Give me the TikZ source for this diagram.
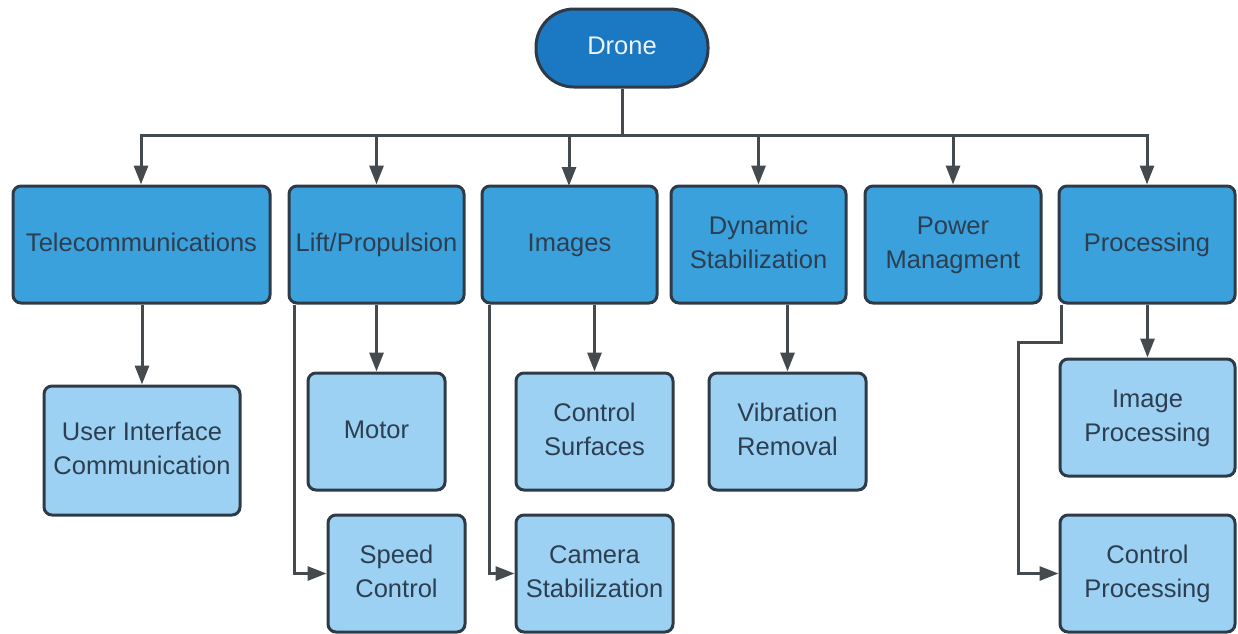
\documentclass[tikz,border=0pt]{standalone}
\usepackage{fontspec}
\setmainfont{Liberation Sans}
\usetikzlibrary{arrows.meta}
\definecolor{rootfill}{HTML}{1B78C2}
\definecolor{topfill}{HTML}{3BA1DD}
\definecolor{subfill}{HTML}{9DD1F3}
\definecolor{edge}{HTML}{2E3B47}
\definecolor{txt}{HTML}{2C3E50}
\definecolor{ln}{HTML}{454A4F}
\tikzset{
  box/.style={draw=edge, line width=3pt, rounded corners=8pt, align=center,
    text=txt, inner sep=2pt, text depth=4pt, font=\fontsize{25.5}{34}\selectfont},
  topbox/.style={box, fill=topfill},
  subbox/.style={box, fill=subfill},
  root/.style={draw=edge, line width=3pt, rounded corners=38pt, fill=rootfill,
    text=white!92!rootfill, text depth=4pt, font=\fontsize{25.5}{34}\selectfont,
    minimum width=172pt, minimum height=78pt},
  conn/.style={draw=ln, line width=3pt},
  arr/.style={conn, -{Triangle[length=19pt,width=14pt]}},
}
\begin{document}
\begin{tikzpicture}[x=1pt,y=-1pt]
\useasboundingbox (0,0) rectangle (1238,633);
% root
\node[root] (drone) at (622,48) {Drone};
% top row
\node[topbox, minimum width=257pt, minimum height=117pt] (tel) at (141.5,244.5) {Telecommunications};
\node[topbox, minimum width=175pt, minimum height=117pt] (lift) at (376.5,244.5) {Lift/Propulsion};
\node[topbox, minimum width=175pt, minimum height=117pt] (img) at (569.5,244.5) {Images};
\node[topbox, minimum width=175pt, minimum height=117pt] (dyn) at (758.5,244.5) {Dynamic\\Stabilization};
\node[topbox, minimum width=176pt, minimum height=117pt] (pow) at (953,244.5) {Power\\Managment};
\node[topbox, minimum width=176pt, minimum height=117pt] (proc) at (1147,244.5) {Processing};
% second row
\node[subbox, minimum width=196pt, minimum height=129pt] (ui) at (142,450.5) {User Interface\\Communication};
\node[subbox, minimum width=137pt, minimum height=117pt] (motor) at (376.5,431.5) {Motor};
\node[subbox, minimum width=137pt, minimum height=117pt] (speed) at (396.5,573.5) {Speed\\Control};
\node[subbox, minimum width=157pt, minimum height=117pt] (csurf) at (594.5,431.5) {Control\\Surfaces};
\node[subbox, minimum width=157pt, minimum height=117pt] (cam) at (594.5,573.5) {Camera\\Stabilization};
\node[subbox, minimum width=157pt, minimum height=117pt] (vib) at (787.5,431.5) {Vibration\\Removal};
\node[subbox, minimum width=175pt, minimum height=117pt] (iproc) at (1147.5,417.5) {Image\\Processing};
\node[subbox, minimum width=175pt, minimum height=117pt] (cproc) at (1147.5,573.5) {Control\\Processing};
% bus
\coordinate (bus) at (622,135);
\coordinate (busL) at (141,135);
\coordinate (busR) at (1147,135);
\draw[conn] (drone.south) -- (bus);
\draw[conn, line cap=rect] (busL) -- (busR);
\draw[arr] (busL) -- (tel.north -| busL);
\draw[arr] (lift.north |- bus) -- (lift.north);
\draw[arr] (569,135) -- (569,186);
\draw[arr] (dyn.north |- bus) -- (dyn.north);
\draw[arr] (pow.north |- bus) -- (pow.north);
\draw[arr] (busR) -- (proc.north -| busR);
% children
\draw[arr] (tel.south -| ui.north) -- (ui.north);
\draw[arr] (lift.south -| motor.north) -- (motor.north);
\draw[arr] ([xshift=7pt]lift.south west) |- (speed.west);
\draw[arr] (img.south -| csurf.north) -- (csurf.north);
\draw[arr] ([xshift=9pt]img.south west) |- (cam.west);
\draw[arr] (dyn.south -| vib.north) -- (vib.north);
\draw[arr] (proc.south -| iproc.north) -- (iproc.north);
\coordinate (pbend) at (1018,342);
\draw[arr] ([xshift=4pt]proc.south west) |- (pbend) |- (cproc.west);
\end{tikzpicture}
\end{document}
